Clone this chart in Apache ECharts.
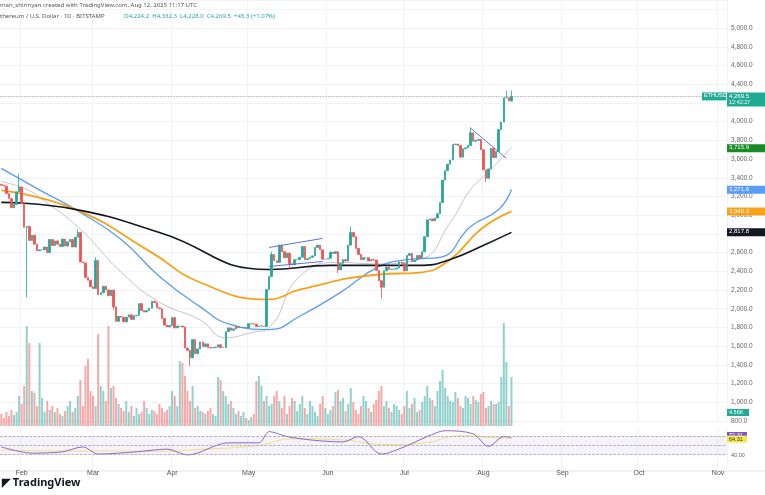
<!DOCTYPE html>
<html><head><meta charset="utf-8">
<script src="https://cdn.jsdelivr.net/npm/echarts@6/dist/echarts.min.js"></script>
<style>html,body{margin:0;padding:0;background:#fff}#c{width:765px;height:495px}</style>
</head><body><div id="c"></div>
<script>
// ---- data ----
const totalDays = 285; // Jan 24 .. Nov 4
const monthStarts = [8,36,67,97,128,158,189,220,250,281];
const monthLabels = ['Feb','Mar','Apr','May','Jun','Jul','Aug','Sep','Oct','Nov'];
const firstOpen = 3330;
const closes = [3320,3310,3230,3180,3080,3115,3250,3300,3125,2870,
2880,2730,2785,2690,2620,2630,2630,2660,2600,2740,
2675,2725,2690,2665,2745,2670,2715,2740,2660,2765,
2815,2500,2490,2335,2305,2235,2215,2515,2150,2170,
2240,2200,2140,2200,2020,1865,1920,1910,1860,1910,
1935,1885,1925,1930,2055,1980,1965,1980,2005,2080,
2065,2010,2000,1895,1825,1805,1820,1905,1795,1815,
1815,1805,1580,1555,1475,1670,1520,1570,1645,1595,
1625,1585,1580,1585,1590,1615,1585,1585,1755,1795,
1770,1785,1810,1800,1800,1800,1795,1840,1840,1835,
1810,1815,1815,1810,2205,2345,2580,2515,2495,2680,
2610,2545,2595,2480,2470,2525,2525,2550,2665,2525,
2535,2550,2565,2655,2680,2630,2530,2530,2540,2605,
2590,2610,2415,2485,2525,2510,2680,2815,2770,2645,
2580,2525,2545,2545,2510,2525,2520,2410,2300,2230,
2405,2445,2420,2420,2425,2435,2500,2485,2405,2570,
2590,2505,2520,2570,2540,2610,2770,2950,2960,2940,
2970,3015,3135,3375,3475,3545,3590,3755,3760,3745,
3620,3710,3720,3745,3880,3790,3800,3810,3700,3485,
3395,3495,3715,3615,3680,3915,3995,4255,4255,4220,
4270];
const wickHigh = {7:3440,30:2850,37:2550,106:2610,137:2880,184:3940,198:4330,200:4332};
const wickLow  = {10:2120,44:1990,74:1385,149:2110,190:3355,113:2420,132:2380};
const volumes = [12,8,14,10,16,11,14,30,22,40,
100,83,35,33,20,83,28,14,25,16,
20,14,18,12,10,15,20,25,14,18,
30,46,20,60,67,35,30,20,92,40,
35,25,100,38,40,28,22,18,15,25,
14,20,10,18,12,14,25,18,12,16,
15,12,22,18,14,16,20,35,30,20,
65,63,50,35,25,40,18,20,15,14,
12,15,18,12,10,49,46,35,30,22,
25,18,12,15,10,14,8,6,9,12,
45,50,40,25,30,20,22,30,35,25,
18,30,12,20,28,25,15,22,30,18,
12,25,20,14,10,22,30,18,12,16,
20,34,36,25,28,15,22,38,24,16,
12,20,30,25,18,14,22,26,35,40,
20,25,18,14,22,20,16,12,20,35,
18,22,28,14,16,24,30,40,28,26,
20,35,45,56,38,30,25,24,34,28,
20,18,30,28,22,30,26,24,32,34,
18,20,25,22,22,24,49,103,64,20,
49];
const rsiPts = [[0,47],[12,33],[24,36],[32,47],[38,31],[53,36],[65,42],[73,29],[89,56],[101,56],[105,81],[112,70],[122,62],[134,58],[140,70],[149,31],[158,47],[167,70],[174,83],[185,76],[191,48],[197,70],[200,68]];
const rsiMaPts = [[0,40],[20,38],[40,38],[60,37],[80,42],[100,50],[115,65],[135,62],[150,52],[165,55],[180,72],[192,68],[200,66]];
const ma200 = [[0,3137],[29,3062],[62,2816],[105,2420],[129,2463],[164,2463],[176,2527],[190,2690],[200,2816]];
const ma100 = [[0,3265],[29,3062],[59,2600],[78,2280],[105,2100],[117,2205],[148,2366],[164,2387],[176,2527],[188,2850],[200,3040]];
const ma50 = [[0,3500],[16,3255],[29,3062],[47,2740],[62,2345],[78,2020],[90,1830],[105,1777],[117,1920],[133,2175],[148,2450],[160,2527],[172,2550],[184,2880],[195,3060],[200,3275]];
const ma20 = [[0,3360],[10,3275],[16,3170],[31,2850],[47,2390],[62,2070],[78,1880],[88,1690],[98,1745],[105,1800],[117,2345],[133,2495],[146,2480],[164,2527],[176,2920],[184,3275],[191,3460],[200,3725]];
const trend1 = [[104.7,2655],[126,2752]];
const trend2 = [[104.7,2452],[126,2505]];
const trend3 = [[184,3929],[198,3608]];

// ---- build ----
const cats = Array.from({length: totalDays}, (_, i) => i);
const ohlc = closes.map((c, i) => {
  const o = i === 0 ? firstOpen : closes[i-1];
  const h = wickHigh[i] !== undefined ? wickHigh[i] : Math.max(o, c);
  const l = wickLow[i] !== undefined ? wickLow[i] : Math.min(o, c);
  return [o, c, l, h];
});
const UP = '#26a69a', DN = '#ef5350';
const volData = volumes.map((v, i) => ({value: v, itemStyle: {color: ohlc[i][1] >= ohlc[i][0] ? 'rgba(38,166,154,0.5)' : 'rgba(239,83,80,0.5)'}}));
const ms = new Set(monthStarts);
const xBase = (gi, show) => ({
  type: 'category', data: cats, gridIndex: gi, boundaryGap: true,
  axisLine: {show: false}, axisTick: {show: false},
  axisLabel: {show: show, interval: (i) => ms.has(i), formatter: (v) => monthLabels[monthStarts.indexOf(+v)] || '', fontSize: 7, color: '#555', margin: 2},
  splitLine: {show: gi !== 1, interval: (i) => ms.has(i), lineStyle: {color: '#f0f3fa'}}
});
const ln = (data, color, w, name) => ({type: 'line', name, data, xAxisIndex: 0, yAxisIndex: 0, smooth: true, symbol: 'none', lineStyle: {color, width: w}, z: 3});

const chart = echarts.init(document.getElementById('c'));
chart.setOption({
  animation: false,
  grid: [
    {left: 0, right: 38, top: 0, height: 421},
    {left: 0, right: 38, top: 300, height: 126},
    {left: 0, right: 38, top: 428, height: 40}
  ],
  xAxis: [xBase(0, false), xBase(1, false), xBase(2, true)],
  yAxis: [
    {gridIndex: 0, position: 'right', min: 800, max: 5300, interval: 200,
     axisLine: {show: false}, axisTick: {show: false},
     axisLabel: {fontSize: 6.5, color: '#666', margin: 4, formatter: v => v > 5000 ? '' : v.toLocaleString('en-US', {minimumFractionDigits: 1, maximumFractionDigits: 1})},
     splitLine: {lineStyle: {color: '#f0f3fa'}}},
    {gridIndex: 1, min: 0, max: 126, show: false},
    {gridIndex: 2, min: 0, max: 89, position: 'right', show: false}
  ],
  series: [
    {type: 'bar', xAxisIndex: 1, yAxisIndex: 1, data: volData, barWidth: 2, z: 1},
    ln(ma20, '#b2b5be', 0.8, 'ma20'),
    ln(ma50, '#5b9cf6', 1.3, 'ma50'),
    ln(ma100, '#f7a21b', 1.8, 'ma100'),
    ln(ma200, '#131722', 1.6, 'ma200'),
    {type: 'candlestick', xAxisIndex: 0, yAxisIndex: 0, data: ohlc, barWidth: 2, z: 4,
     itemStyle: {color: UP, color0: DN, borderColor: UP, borderColor0: DN, borderWidth: 0.8},
     markLine: {symbol: 'none', silent: true, label: {show: false}, lineStyle: {color: '#9598a1', type: 'dotted', width: 0.8}, data: [{yAxis: 4269.5}]}},
    {type: 'line', data: trend1, symbol: 'none', lineStyle: {color: '#5d72d6', width: 1}, z: 5},
    {type: 'line', data: trend2, symbol: 'none', lineStyle: {color: '#5d72d6', width: 1}, z: 5},
    {type: 'line', data: trend3, symbol: 'none', lineStyle: {color: '#5d72d6', width: 1}, z: 5},
    {type: 'line', xAxisIndex: 2, yAxisIndex: 2, data: rsiMaPts, smooth: true, symbol: 'none', lineStyle: {color: '#e8dc6a', width: 0.8},
     markArea: {silent: true, itemStyle: {color: 'rgba(126,87,194,0.08)'}, data: [[{yAxis: 30}, {yAxis: 70}]]},
     markLine: {symbol: 'none', silent: true, label: {show: false}, lineStyle: {color: '#9598a1', type: 'dashed', width: 0.7}, data: [{yAxis: 70}, {yAxis: 50}, {yAxis: 30}]}},
    {type: 'line', xAxisIndex: 2, yAxisIndex: 2, data: rsiPts, smooth: 0.3, symbol: 'none', lineStyle: {color: '#7e57c2', width: 0.9}}
  ]
});

const g = [
  {type: 'text', x: 0, y: 2, style: {text: 'man_shirinyan created with TradingView.com, Aug 12, 2025 11:17 UTC', fontSize: 6, fill: '#555', fontFamily: 'Noto Sans'}},
  {type: 'text', x: 0, y: 13, style: {text: 'thereum / U.S. Dollar · 1D · BITSTAMP', fontSize: 6, fill: '#555', fontFamily: 'Noto Sans'}},
  {type: 'text', x: 124, y: 13, style: {text: 'O4,224.2  H4,332.3  L4,228.0  C4,269.5  +45.3 (+1.07%)', fontSize: 6, fill: '#26a69a', fontFamily: 'Noto Sans'}},
  {type: 'text', x: 2, y: 477, style: {text: '◤ TradingView', fontSize: 11, fontWeight: 'bold', fill: '#131722', fontFamily: 'Noto Sans'}},
  {type: 'line', shape: {x1: 0, y1: 471, x2: 765, y2: 471}, style: {stroke: '#e0e3eb', lineWidth: 1}}
];
const badges = [
  {v: 4269.5, t: '4,269.5', t2: '12:42:27', c: '#22ab94'},
  {v: 3715.9, t: '3,715.9', c: '#1b8a2a'},
  {v: 3271.6, t: '3,271.6', c: '#5b9cf6'},
  {v: 3040.3, t: '3,040.3', c: '#f7a21b'},
  {v: 2817.8, t: '2,817.8', c: '#131722'}
];
badges.forEach(b => {
  const y = chart.convertToPixel({yAxisIndex: 0}, b.v);
  const h = b.t2 ? 14 : 8;
  g.push({type: 'rect', shape: {x: 727, y: y - 4, width: 38, height: h}, style: {fill: b.c}, z: 10});
  g.push({type: 'text', x: 729, y: y - 3.5, style: {text: b.t, fontSize: 6, fill: '#fff'}, z: 11});
  if (b.t2) g.push({type: 'text', x: 729, y: y + 3, style: {text: b.t2, fontSize: 5.5, fill: '#e8fff9'}, z: 11});
});
const yE = chart.convertToPixel({yAxisIndex: 0}, 4269.5);
g.push({type: 'rect', shape: {x: 702, y: yE - 4, width: 24, height: 8}, style: {fill: '#22ab94'}, z: 10});
g.push({type: 'text', x: 704, y: yE - 3.5, style: {text: 'ETHUSD', fontSize: 5.5, fill: '#fff'}, z: 11});
g.push({type: 'rect', shape: {x: 727, y: 409, width: 22, height: 7}, style: {fill: '#22ab94'}, z: 10});
g.push({type: 'text', x: 729, y: 409.5, style: {text: '4.56K', fontSize: 5.5, fill: '#fff'}, z: 11});
[[72.31, '#7e57c2', '#fff'], [64.31, '#f2e84a', '#333']].forEach(([v, c, f]) => {
  const y = chart.convertToPixel({yAxisIndex: 2}, v);
  g.push({type: 'rect', shape: {x: 727, y: y - 3.5, width: 20, height: 7}, style: {fill: c}, z: 10});
  g.push({type: 'text', x: 729, y: y - 3, style: {text: v.toFixed(2), fontSize: 5.5, fill: f}, z: 11});
});
const y40 = chart.convertToPixel({yAxisIndex: 2}, 40);
g.push({type: 'text', x: 731, y: y40 + 2, style: {text: '40.00', fontSize: 5.5, fill: '#666'}, z: 11});
chart.setOption({graphic: g});
</script></body></html>
